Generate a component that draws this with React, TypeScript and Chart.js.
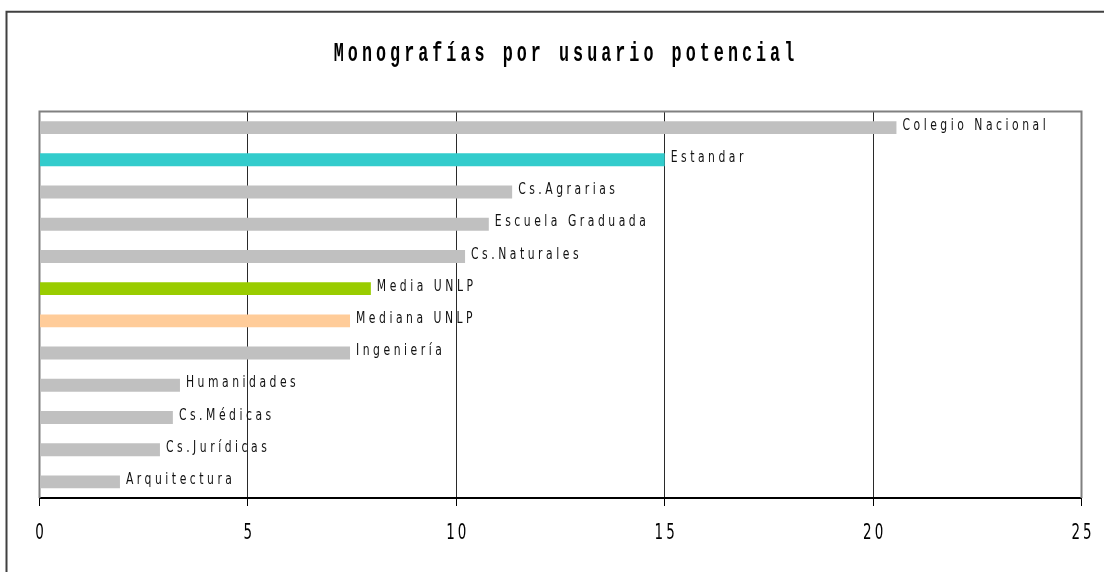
import { useEffect, useRef } from 'react';
import { Chart, registerables } from 'chart.js';

Chart.register(...registerables);

const W = 1104;
const H = 572;

const title = 'Monografías por usuario potencial';
const categories = [
  'Colegio Nacional',
  'Estandar',
  'Cs.Agrarias',
  'Escuela Graduada',
  'Cs.Naturales',
  'Media UNLP',
  'Mediana UNLP',
  'Ingeniería',
  'Humanidades',
  'Cs.Médicas',
  'Cs.Jurídicas',
  'Arquitectura',
];
const values = [20.56, 15, 11.34, 10.78, 10.21, 7.95, 7.45, 7.45, 3.37, 3.2, 2.89, 1.93];
const barColors = [
  '#C0C0C0',
  '#33CCCC',
  '#C0C0C0',
  '#C0C0C0',
  '#C0C0C0',
  '#99CC00',
  '#FFCC99',
  '#C0C0C0',
  '#C0C0C0',
  '#C0C0C0',
  '#C0C0C0',
  '#C0C0C0',
];
const xMin = 0;
const xMax = 25;
const xStep = 5;

const SANS = "'DejaVu Sans Condensed', 'Liberation Sans Narrow', 'DejaVu Sans', sans-serif";
const MONO = "'Liberation Mono', 'Courier New', monospace";

function drawText(
  ctx: CanvasRenderingContext2D,
  text: string,
  x: number,
  y: number,
  sx: number,
  spacing: number,
  align: CanvasTextAlign,
) {
  ctx.save();
  (ctx as any).letterSpacing = `${spacing}px`;
  const shift = align === 'center' ? (spacing * sx) / 2 : 0;
  ctx.translate(x + shift, y);
  ctx.scale(sx, 1);
  ctx.textAlign = align;
  ctx.fillText(text, 0, 0);
  ctx.restore();
}

const decor = {
  id: 'decor',
  beforeDraw(chart: any) {
    const ctx = chart.ctx as CanvasRenderingContext2D;
    ctx.save();
    ctx.fillStyle = '#ffffff';
    ctx.fillRect(0, 0, W, H);
    ctx.strokeStyle = '#404040';
    ctx.lineWidth = 2;
    ctx.beginPath();
    ctx.moveTo(6.5, H);
    ctx.lineTo(6.5, 11.75);
    ctx.lineTo(W + 2, 11.75);
    ctx.stroke();
    ctx.fillStyle = '#000000';
    ctx.font = `bold 27px ${MONO}`;
    ctx.textBaseline = 'alphabetic';
    drawText(ctx, title, 564, 61, 0.62, 6.5, 'center');
    ctx.restore();
  },
  beforeDatasetsDraw(chart: any) {
    const ctx = chart.ctx as CanvasRenderingContext2D;
    const a = chart.chartArea;
    ctx.save();
    ctx.strokeStyle = '#808080';
    ctx.lineWidth = 2;
    ctx.beginPath();
    ctx.moveTo(a.left, a.bottom);
    ctx.lineTo(a.left, a.top);
    ctx.lineTo(a.right, a.top);
    ctx.lineTo(a.right, a.bottom);
    ctx.stroke();
    ctx.restore();
  },
  afterDatasetsDraw(chart: any) {
    const ctx = chart.ctx as CanvasRenderingContext2D;
    const meta = chart.getDatasetMeta(0);
    ctx.save();
    ctx.font = `16px ${SANS}`;
    ctx.fillStyle = '#111111';
    ctx.textBaseline = 'middle';
    meta.data.forEach((bar: any, i: number) => {
      drawText(ctx, categories[i], bar.x + 6, bar.y - 2, 0.75, 4.7, 'left');
    });
    ctx.restore();
  },
  afterDraw(chart: any) {
    const ctx = chart.ctx as CanvasRenderingContext2D;
    const xs = chart.scales.x;
    ctx.save();
    ctx.font = `22px ${SANS}`;
    ctx.fillStyle = '#000000';
    ctx.textBaseline = 'alphabetic';
    xs.ticks.forEach((t: any) => {
      const px = xs.getPixelForValue(t.value);
      drawText(ctx, String(t.value), px, 539, 0.68, 4.5, 'center');
    });
    ctx.restore();
  },
};

export default function App() {
  const ref = useRef<HTMLCanvasElement | null>(null);
  useEffect(() => {
    if (!ref.current) return;
    const chart = new Chart(ref.current, {
      type: 'bar',
      data: {
        labels: categories,
        datasets: [
          {
            data: values,
            backgroundColor: barColors,
            borderWidth: 0,
            categoryPercentage: 1,
            barPercentage: 0.4,
          },
        ],
      },
      options: {
        indexAxis: 'y',
        responsive: false,
        animation: false,
        events: [],
        layout: { padding: { left: 39.5, right: 22.5, top: 111.5, bottom: 0 } },
        plugins: {
          legend: { display: false },
          title: { display: false },
          tooltip: { enabled: false },
        },
        scales: {
          x: {
            type: 'linear',
            position: 'bottom',
            min: xMin,
            max: xMax,
            afterFit(scale: any) {
              scale.height = 74;
            },
            ticks: {
              stepSize: xStep,
              display: false,
            },
            grid: {
              drawTicks: true,
              tickLength: 8,
              tickColor: '#000000',
              lineWidth: 1,
              color: (c: any) =>
                c.tick && (c.tick.value === xMin || c.tick.value === xMax) ? 'rgba(0,0,0,0)' : '#2a2a2a',
            },
            border: { display: true, color: '#000000', width: 2 },
          },
          y: {
            display: false,
          },
        },
      },
      plugins: [decor],
    });
    return () => chart.destroy();
  }, []);
  return (
    <div style={{ position: 'absolute', left: 0, top: 0, width: W, height: H, background: '#fff' }}>
      <canvas ref={ref} width={W} height={H} style={{ display: 'block', width: W, height: H }} />
    </div>
  );
}
